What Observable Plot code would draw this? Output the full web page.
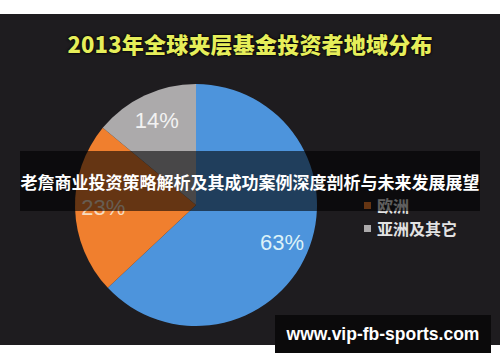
<!DOCTYPE html>
<html>
<head>
<meta charset="utf-8">
<script src="https://cdn.jsdelivr.net/npm/d3@7"></script>
<script src="https://cdn.jsdelivr.net/npm/@observablehq/plot@0.6"></script>
<style>
  html, body { margin: 0; padding: 0; background: #ffffff; }
  #wrap { position: relative; width: 500px; height: 362px; overflow: hidden; font-family: "Noto Sans CJK SC", sans-serif; }
  #panel { position: absolute; left: 0; top: 14px; width: 500px; height: 331px; background: #1e1c1f; }
  #title { position: absolute; left: 0; top: 31px; width: 500px; height: 24px; line-height: 24px; text-align: center;
           color: #e6ee5a; font-size: 22px; font-weight: 900; letter-spacing: 0.2px;
           text-shadow: 0 0 2px #000, 0 0 3px rgba(0,0,0,0.9); }
  #chart { position: absolute; left: 0; top: 0; }
  #legend { position: absolute; left: 364px; top: 0; }
  .item { position: absolute; left: 0; height: 20px; display: flex; align-items: center; white-space: nowrap; }
  .swatch { width: 7px; height: 7px; margin-right: 6px; }
  .item span { color: #e2e2e2; font-size: 16px; font-weight: 700; line-height: 20px; }
  #banner { position: absolute; left: 20px; top: 151px; width: 460px; height: 60px; background: rgba(0,0,0,0.58);
            display: flex; align-items: center; justify-content: center; white-space: nowrap;
            color: #ffffff; font-size: 17px; font-weight: 700; }
  #site { position: absolute; left: 275px; top: 315px; width: 216px; height: 38px; background: #0b0a0b;
          display: flex; align-items: center; justify-content: center; white-space: nowrap;
          color: #ffffff; font-family: "Liberation Sans", Arial, sans-serif; font-size: 17.5px; font-weight: 700; }
</style>
</head>
<body>
<div id="wrap">
  <div id="panel"></div>
  <div id="title"></div>
  <div id="chart"></div>
  <div id="legend"></div>
  <div id="banner"></div>
  <div id="site"></div>
</div>
<script>
// Investor regions and their share of 2013 global mezzanine fund capital
const titleText = "2013年全球夹层基金投资者地域分布";
const categories = ["北美", "欧洲", "亚洲及其它"];
const shares = [63, 23, 14];
const sliceColors = ["#4d94dc", "#f07f2e", "#acaaab"];
const labelColors = ["#dcf2f8", "#f6dcc0", "#f2f2f2"];
const legendCategories = ["欧洲", "亚洲及其它"];
const bannerText = "老詹商业投资策略解析及其成功案例深度剖析与未来发展展望";
const siteText = "www.vip-fb-sports.com";

const rows = categories.map((name, i) => ({ name, share: shares[i], color: sliceColors[i], labelColor: labelColors[i] }));

// Angles run clockwise from twelve o'clock, in data order
const arcs = d3.pie().sort(null).value(d => d.share)(rows);
const mid = a => (a.startAngle + a.endAngle) / 2;
const labelRadius = 0.77;

// Pie slices drawn in the plot's own x/y coordinate system (unit circle)
function slices(index, scales) {
  const cx = scales.x(0), cy = scales.y(0);
  const r = scales.x(1) - scales.x(0);
  const arc = d3.arc().innerRadius(0).outerRadius(r);
  const g = d3.create("svg:g").attr("transform", `translate(${cx},${cy})`);
  g.selectAll("path").data(arcs).join("path")
    .attr("d", arc)
    .attr("fill", d => d.data.color);
  return g.node();
}

const chart = Plot.plot({
  width: 500,
  height: 362,
  margin: 0,
  x: { domain: [-1, 1], range: [75, 317], axis: null },
  y: { domain: [-1, 1], range: [326, 84], axis: null },
  color: { type: "identity" },
  style: { background: "transparent", overflow: "visible" },
  marks: [
    slices,
    Plot.text(arcs, {
      x: d => labelRadius * Math.sin(mid(d)),
      y: d => labelRadius * Math.cos(mid(d)),
      text: d => `${d.data.share}%`,
      fill: d => d.data.labelColor,
      fontSize: 22,
      fontFamily: "Liberation Sans, Arial, sans-serif"
    })
  ]
});
document.getElementById("chart").append(chart);

document.getElementById("title").textContent = titleText;

// Legend entries, stacked and centred on the pie's middle row
const legend = d3.select("#legend");
legendCategories.forEach((name, i) => {
  const row = rows.find(r => r.name === name);
  const item = legend.append("div").attr("class", "item").style("top", `${195 + i * 23}px`);
  item.append("div").attr("class", "swatch").style("background", row.color);
  item.append("span").text(name);
});

document.getElementById("banner").textContent = bannerText;
document.getElementById("site").textContent = siteText;
</script>
</body>
</html>
